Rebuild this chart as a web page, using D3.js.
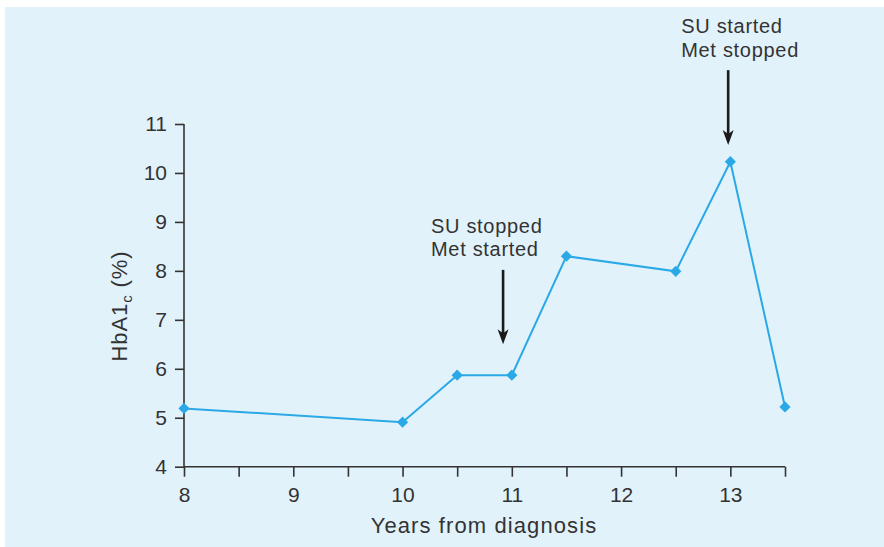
<!DOCTYPE html>
<html>
<head>
<meta charset="utf-8">
<script src="https://cdn.jsdelivr.net/npm/d3@7"></script>
<style>
  html, body { margin: 0; padding: 0; background: #ffffff; }
  svg { display: block; }
  text { font-family: "Liberation Sans", Arial, sans-serif; fill: #333333; }
</style>
</head>
<body>
<svg id="chart" width="884" height="547"></svg>
<script>
// HbA1c measurements over years since diagnosis
const years = [8, 10, 10.5, 11, 11.5, 12.5, 13, 13.5];
const hba1c = [5.19, 4.91, 5.87, 5.87, 8.3, 7.99, 10.23, 5.22];

// Axis ticks
const xMajorTicks = [8, 9, 10, 11, 12, 13];
const xMinorTicks = [8.5, 9.5, 10.5, 11.5, 12.5, 13.5];
const yTicks = [4, 5, 6, 7, 8, 9, 10, 11];

// Treatment change annotations (arrow x, arrow top/tip, label left edge, in data units)
const noteLines = [["SU stopped", "Met started"], ["SU started", "Met stopped"]];
const noteX = [10.92, 12.98];
const noteTop = [8.02, 12.1];
const noteTip = [6.5, 10.57];
const noteLabelX = [10.26, 12.55];

const svg = d3.select("#chart");
const W = 884, H = 547;

svg.append("rect")
  .attr("x", 5).attr("y", 7)
  .attr("width", W - 5).attr("height", H - 7)
  .attr("fill", "#e1f2fb");

const x = d3.scaleLinear().domain([8, 13.5]).range([184, 785]);
const y = d3.scaleLinear().domain([4, 11]).range([466.7, 124]);

const axisColor = "#333333";
const fontFam = "'Liberation Sans', Arial, sans-serif";

// Y axis
const yAxis = svg.append("g")
  .attr("transform", `translate(${x(8)},0)`)
  .call(d3.axisLeft(y).tickValues(yTicks).tickSize(9).tickPadding(8).tickFormat(d3.format("d")));
yAxis.select(".domain").attr("d", `M0,${y(11)}V${y(4)}`).attr("stroke", axisColor).attr("stroke-width", 1.6);
yAxis.selectAll(".tick line").attr("stroke", axisColor).attr("stroke-width", 1.6);
yAxis.selectAll(".tick text").style("font-size", "21px").style("font-family", fontFam).attr("fill", "#333");

// X axis: major labelled ticks plus minor half-year ticks
const xAxis = svg.append("g")
  .attr("transform", `translate(0,${y(4)})`)
  .call(d3.axisBottom(x).tickValues(xMajorTicks.concat(xMinorTicks)).tickSize(10).tickPadding(10)
    .tickFormat(d => xMajorTicks.includes(d) ? d3.format("d")(d) : ""));
xAxis.select(".domain").attr("d", `M${x(8)},0H${x(13.5)}`).attr("stroke", axisColor).attr("stroke-width", 1.6);
xAxis.selectAll(".tick line").attr("stroke", axisColor).attr("stroke-width", 1.6);
xAxis.selectAll(".tick text").style("font-size", "21px").style("font-family", fontFam).attr("fill", "#333");

// Axis titles
svg.append("text")
  .attr("x", (369 + 599) / 2).attr("y", 533)
  .attr("text-anchor", "middle")
  .style("font-size", "22px")
  .style("letter-spacing", "1.1px")
  .text("Years from diagnosis");

const yt = svg.append("text")
  .attr("transform", `translate(127,306) rotate(-90)`)
  .attr("text-anchor", "middle")
  .style("font-size", "22px")
  .style("letter-spacing", "0.9px");
yt.append("tspan").text("HbA1");
yt.append("tspan").attr("dy", 5).style("font-size", "15px").text("c");
yt.append("tspan").attr("dy", -5).text(" (%)");

// Data line and diamond markers
const lineColor = "#2aa9e6";
const pts = years.map((d, i) => [d, hba1c[i]]);
svg.append("path")
  .datum(pts)
  .attr("fill", "none")
  .attr("stroke", lineColor)
  .attr("stroke-width", 2)
  .attr("d", d3.line().x(d => x(d[0])).y(d => y(d[1])));

svg.selectAll("path.marker")
  .data(pts)
  .enter().append("path")
  .attr("class", "marker")
  .attr("transform", d => `translate(${x(d[0])},${y(d[1])})`)
  .attr("d", d3.symbol().type(d3.symbolDiamond2).size(80))
  .attr("fill", lineColor);

// Annotations with downward arrows
noteLines.forEach((lines, i) => {
  const px = x(noteX[i]);
  const top = y(noteTop[i]);
  const tip = y(noteTip[i]);
  svg.append("line")
    .attr("x1", px).attr("x2", px)
    .attr("y1", top).attr("y2", tip - 10)
    .attr("stroke", "#1a1a1a").attr("stroke-width", 2.6);
  svg.append("path")
    .attr("d", `M${px},${tip}L${px - 5.5},${tip - 15}L${px},${tip - 11}L${px + 5.5},${tip - 15}Z`)
    .attr("fill", "#1a1a1a");
  const t = svg.append("text")
    .attr("y", top - 37)
    .style("font-size", "20px")
    .style("letter-spacing", "0.7px");
  t.selectAll("tspan").data(lines).enter().append("tspan")
    .attr("x", x(noteLabelX[i]))
    .attr("dy", (d, j) => j === 0 ? 0 : 23.5)
    .text(d => d);
});
</script>
</body>
</html>
